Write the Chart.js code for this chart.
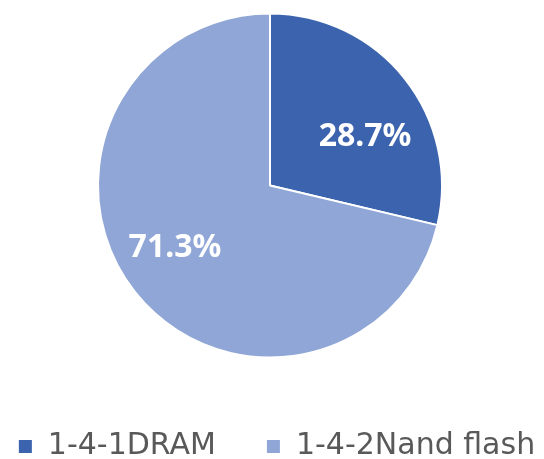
<!DOCTYPE html>
<html lang="ko">
<head>
  <meta charset="UTF-8">
  <title>DRAM / Nand flash</title>
  <script src="https://cdn.jsdelivr.net/npm/chart.js"></script>
  <style>
    html, body {
      margin: 0;
      padding: 0;
      background: #ffffff;
    }
    #wrap {
      width: 544px;
      height: 459px;
    }
  </style>
</head>
<body>
  <div id="wrap"><canvas id="grafico"></canvas></div>

  <script>
    const categorias = ['1-4-1DRAM', '1-4-2Nand flash'];
    const valores = [28.7, 71.3];
    const cores = ['#3C63AD', '#8FA6D6'];

    // rótulos de porcentagem dentro das fatias
    const rotulos = {
      id: 'rotulos',
      afterDatasetsDraw(chart) {
        const ctx = chart.ctx;
        const meta = chart.getDatasetMeta(0);
        ctx.save();
        ctx.fillStyle = '#ffffff';
        ctx.font = 'bold 32px "Noto Sans", sans-serif';
        ctx.textAlign = 'center';
        ctx.textBaseline = 'middle';
        meta.data.forEach((arc, i) => {
          const p = arc.getProps(['x', 'y', 'startAngle', 'endAngle', 'outerRadius']);
          const meio = (p.startAngle + p.endAngle) / 2 + 0.14;
          const r = p.outerRadius * 0.64;
          ctx.fillText(valores[i].toFixed(1) + '%', p.x + Math.cos(meio) * r, p.y + Math.sin(meio) * r + 7);
        });
        ctx.restore();
      }
    };

    // legenda em uma linha só, no rodapé
    const legenda = {
      id: 'legenda',
      afterDraw(chart) {
        const ctx = chart.ctx;
        const caixa = 13, folga = 16, entre = 51;
        ctx.save();
        ctx.font = '30px "DejaVu Sans", sans-serif';
        ctx.textBaseline = 'alphabetic';
        ctx.textAlign = 'left';
        const larguras = categorias.map(t => ctx.measureText(t).width);
        let total = entre * (categorias.length - 1);
        larguras.forEach(w => { total += caixa + folga + w; });
        let x = 277 - total / 2;
        const base = 454;
        categorias.forEach((t, i) => {
          ctx.fillStyle = cores[i];
          ctx.fillRect(x, base - 14, caixa, caixa);
          x += caixa + folga;
          ctx.fillStyle = '#595959';
          ctx.fillText(t, x, base);
          x += larguras[i] + entre;
        });
        ctx.restore();
      }
    };

    const ctx = document.getElementById('grafico').getContext('2d');
    new Chart(ctx, {
      type: 'pie',
      data: {
        labels: categorias,
        datasets: [{
          data: valores,
          backgroundColor: cores,
          borderColor: '#ffffff',
          borderWidth: 2,
          radius: 172
        }]
      },
      options: {
        responsive: true,
        maintainAspectRatio: false,
        animation: false,
        layout: { padding: { top: 0, right: 4, bottom: 88 } },
        plugins: {
          tooltip: { enabled: false },
          legend: { display: false }
        }
      },
      plugins: [rotulos, legenda]
    });
  </script>
</body>
</html>
